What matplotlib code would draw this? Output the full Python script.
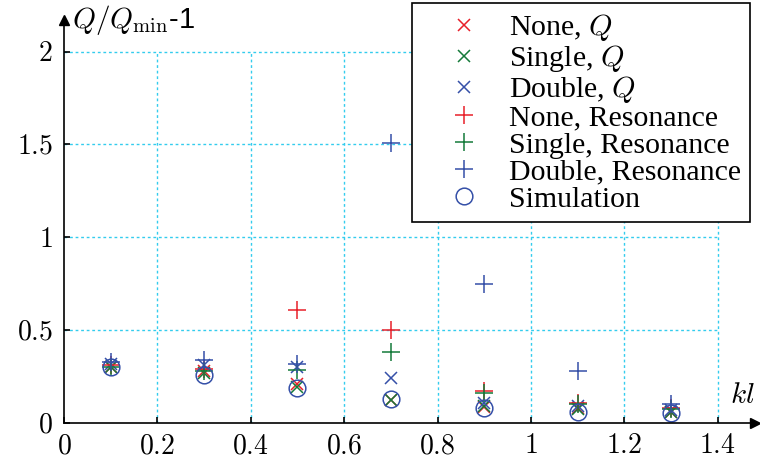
import matplotlib
matplotlib.use("Agg")
import matplotlib.pyplot as plt

plt.rcParams['mathtext.fontset'] = 'cm'
plt.rcParams['font.family'] = ['Liberation Serif', 'DejaVu Serif']

# kl values and Q/Qmin - 1 for each case
kl = [0.1, 0.3, 0.5, 0.7, 0.9, 1.1, 1.3]
none_q = [0.30, 0.28, 0.21, 0.125, 0.085, 0.08, 0.06]
single_q = [0.30, 0.27, 0.195, 0.125, 0.09, 0.075, 0.06]
double_q = [0.32, 0.31, 0.30, 0.245, 0.11, 0.09, 0.07]
none_res = [0.31, 0.29, 0.61, 0.50, 0.17, 0.11, 0.08]
single_res = [0.30, 0.28, 0.285, 0.385, 0.16, 0.10, 0.075]
double_res = [0.33, 0.34, 0.32, 1.51, 0.75, 0.28, 0.10]
simulation = [0.30, 0.26, 0.19, 0.128, 0.08, 0.06, 0.055]

xticks = [0, 0.2, 0.4, 0.6, 0.8, 1, 1.2, 1.4]
yticks = [0, 0.5, 1, 1.5, 2]

red = '#e8202a'
green = '#157a3a'
blue = '#3550a8'

fig = plt.figure(figsize=(7.6, 4.62), dpi=100)
ax = fig.add_axes([64 / 760, 39 / 462, 691 / 760, 403 / 462])

# grid, clipped to the tick range
ax.hlines(yticks[1:], 0, xticks[-1], colors='#33ccee', linestyles=(0, (2, 2)), lw=1, zorder=0)
ax.vlines(xticks[1:], 0, yticks[-1], colors='#33ccee', linestyles=(0, (2, 2)), lw=1, zorder=0)

ax.plot(kl, none_q, 'x', color=red, ms=9, mew=1.1, label='None, $Q$')
ax.plot(kl, single_q, 'x', color=green, ms=9, mew=1.1, label='Single, $Q$')
ax.plot(kl, double_q, 'x', color=blue, ms=9, mew=1.1, label='Double, $Q$')
ax.plot(kl, none_res, '+', color=red, ms=13, mew=1.1, label='None, Resonance')
ax.plot(kl, single_res, '+', color=green, ms=13, mew=1.1, label='Single, Resonance')
ax.plot(kl, double_res, '+', color=blue, ms=13, mew=1.1, label='Double, Resonance')
ax.plot(kl, simulation, 'o', color=blue, mfc='none', ms=12, mew=1.1, label='Simulation')

ax.set_xlim(0, 1.48)
ax.set_ylim(0, 2.17)
ax.set_xticks(xticks)
ax.set_yticks(yticks)
ax.set_xticklabels(['$%g$' % t for t in xticks])
ax.set_yticklabels(['$%g$' % t for t in yticks])
ax.tick_params(direction='in', length=4, width=1.2, labelsize=20, pad=8)

for s in ['top', 'right']:
    ax.spines[s].set_visible(False)
for s in ['left', 'bottom']:
    ax.spines[s].set_linewidth(1.2)

# arrow heads on the axes
ax.plot(1, 0, '>k', ms=7, transform=ax.transAxes, clip_on=False)
ax.plot(0, 1, '^k', ms=7, transform=ax.transAxes, clip_on=False)

ax.text(0.012, 1.0, r'$Q/Q_{\rm min}$-1', transform=ax.transAxes, fontsize=21,
        ha='left', va='center', family=['Liberation Sans'])
ax.text(1.0, 0.035, '$kl$', transform=ax.transAxes, fontsize=21, ha='right', va='bottom')

leg = ax.legend(loc='upper right', bbox_to_anchor=(750 / 760, 1 - 3 / 462),
                bbox_transform=fig.transFigure, borderaxespad=0, fontsize=21.5,
                labelspacing=0.0, handlelength=2.9, handletextpad=0.05, borderpad=0.3,
                fancybox=False, framealpha=1, edgecolor='black')
leg.get_frame().set_linewidth(1.2)

fig.savefig('out.png', dpi=100)
